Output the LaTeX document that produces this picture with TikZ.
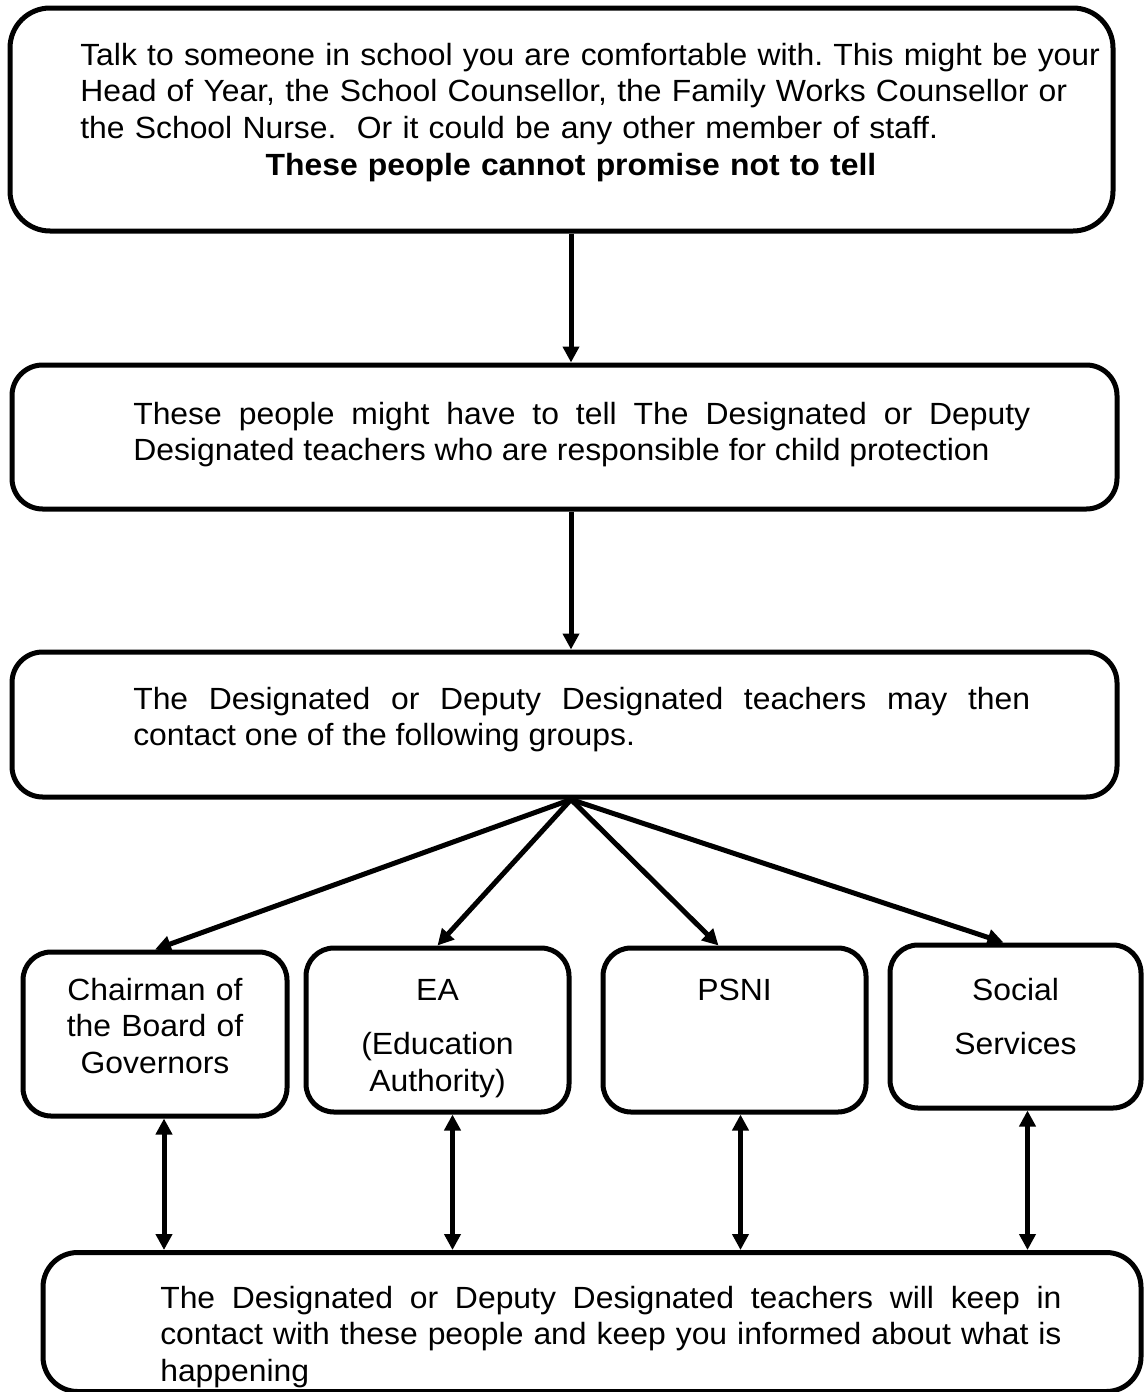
\documentclass[tikz,border=0pt]{standalone}
\usepackage{fontspec}
\setmainfont{Liberation Sans}[FakeStretch=1.04]
\usetikzlibrary{arrows.meta,calc}
\tolerance=9999
\hyphenpenalty=10000
\begin{document}
\frenchspacing
\begin{tikzpicture}[x=0.75pt,y=-0.75pt,
  font=\fontsize{23}{27.5}\selectfont,
  rbox/.style={draw=black, line width=3.75pt, rounded corners=#1, inner sep=0pt, rectangle},
  rbox/.default=22pt,
  txt/.style={inner sep=0pt, anchor=base west, align=justify},
  ctxt/.style={inner sep=0pt, anchor=base, text width=180pt, align=center},
  tip/.tip={Triangle[length=12pt,width=12pt]},
  arr/.style={line width=3.75pt, -tip},
  darr/.style={line width=3.75pt, tip-tip}]
\path[use as bounding box, fill=white] (0,0) rectangle (1144,1392);

% boxes
\node[rbox=30pt, minimum width=827.25pt, minimum height=167.25pt] (b1) at (561.5,119.5) {};
\node[rbox=23pt, minimum width=828.75pt, minimum height=108pt] (b2) at (564.5,437) {};
\node[rbox=23pt, minimum width=828.75pt, minimum height=108.75pt] (b3) at (564.5,724.5) {};
\node[rbox=21pt, minimum width=198pt, minimum height=123pt] (c1) at (155,1034) {};
\node[rbox=21pt, minimum width=197.25pt, minimum height=123pt] (c2) at (437.5,1030) {};
\node[rbox=21pt, minimum width=197.25pt, minimum height=123pt] (c3) at (734.5,1030) {};
\node[rbox=21pt, minimum width=188.25pt, minimum height=122.25pt] (c4) at (1015.5,1026.5) {};
\node[rbox=26pt, minimum width=823.5pt, minimum height=104.25pt] (bb) at (592,1322) {};

% texts
\node[txt, text width=800pt, align=left] (t1) at (80,65) {Talk to someone in school you are comfortable with. This might be your\\Head of Year, the School Counsellor, the Family Works Counsellor or\\the School Nurse.\ \ Or it could be any other member of staff.\\\hspace*{139pt}\textbf{These people cannot promise not to tell}};
\node[txt, text width=672.75pt] (t2) at (133,424) {These people might have to tell The Designated or Deputy\linebreak Designated teachers who are responsible for child protection};
\node[txt, text width=672.75pt] (t3) at (133,709) {The Designated or Deputy Designated teachers may then\linebreak contact one of the following groups.};
\node[txt, text width=676pt] (t4) at (160,1308) {The Designated or Deputy Designated teachers will keep in\linebreak contact with these people and keep you informed about what is\linebreak happening};
\node[ctxt] (t5) at (155,1000) {Chairman of\\the Board of\\Governors};
\node[ctxt] (t6) at (437.5,1000) {EA\\[13.5pt](Education\\Authority)};
\node[ctxt] (t7) at (734.5,1000) {PSNI};
\node[ctxt] (t8) at (1015.5,1000) {Social\\[13.5pt]Services};

% connectors
\coordinate (ax) at (571,0);
\draw[arr] (b1.south -| ax) -- (b2.north -| ax);
\draw[arr] (b2.south -| ax) -- (b3.north -| ax);
\coordinate (fan) at (b3.south -| ax);
\coordinate (e3) at ($(c3.north)+(-16,0)$);
\coordinate (e4) at ($(c4.north)+(-12,0)$);
\draw[arr] (fan) -- (c1.north);
\draw[arr] (fan) -- (c2.north);
\draw[arr] (fan) -- (e3);
\draw[arr] (fan) -- (e4);
\coordinate (d1) at ($(c1.south)+(9,0)$);
\coordinate (d2) at ($(c2.south)+(15,0)$);
\coordinate (d3) at ($(c3.south)+(6,0)$);
\coordinate (d4) at ($(c4.south)+(12,0)$);
\draw[darr] (d1) -- (d1 |- bb.north);
\draw[darr] (d2) -- (d2 |- bb.north);
\draw[darr] (d3) -- (d3 |- bb.north);
\draw[darr] (d4) -- (d4 |- bb.north);
\end{tikzpicture}
\end{document}
